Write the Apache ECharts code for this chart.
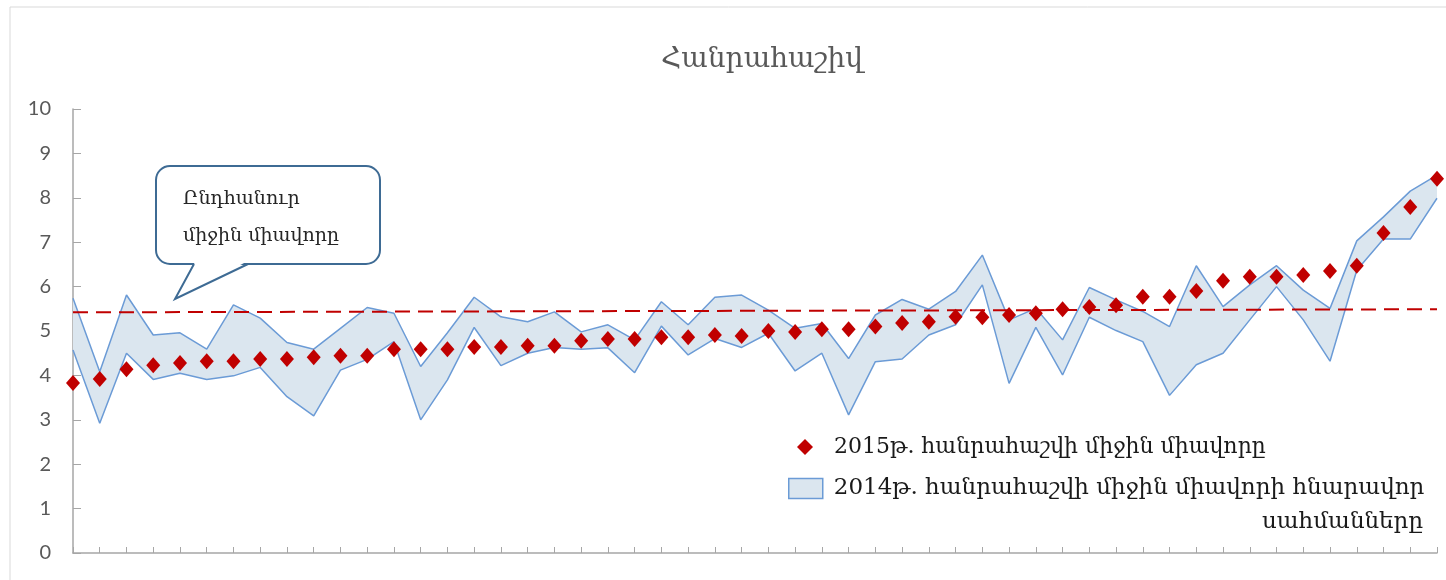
<!DOCTYPE html>
<html>
<head>
<meta charset="utf-8">
<script src="https://cdn.jsdelivr.net/npm/echarts@6/dist/echarts.min.js"></script>
<style>
  html, body { margin: 0; padding: 0; background: #fff; }
  #chart { width: 1446px; height: 580px; }
</style>
</head>
<body>
<div id="chart"></div>
<script>
// 2015 averages (diamonds)
var avg2015 = [3.83, 3.92, 4.14, 4.23, 4.28, 4.32, 4.32, 4.37, 4.37, 4.41, 4.44, 4.44, 4.59,
  4.59, 4.59, 4.64, 4.64, 4.67, 4.67, 4.78, 4.82, 4.82, 4.86, 4.86, 4.91, 4.89, 5.0,
  4.98, 5.04, 5.04, 5.10, 5.18, 5.21, 5.32, 5.31, 5.36, 5.40, 5.49, 5.54, 5.58,
  5.77, 5.77, 5.90, 6.13, 6.22, 6.22, 6.26, 6.35, 6.47, 7.21, 7.79, 8.43];
// 2014 band limits
var upper2014 = [5.74, 4.08, 5.81, 4.91, 4.96, 4.59, 5.59, 5.29, 4.74, 4.59,
  5.06, 5.53, 5.40, 4.20, 4.96, 5.76, 5.32, 5.21, 5.43, 4.98,
  5.14, 4.80, 5.66, 5.14, 5.76, 5.81, 5.47, 5.06, 5.17, 4.38,
  5.36, 5.71, 5.49, 5.89, 6.71, 5.25, 5.51, 4.80, 5.98, 5.70,
  5.44, 5.10, 6.47, 5.55, 6.04, 6.47, 5.92, 5.51, 7.03, 7.57, 8.15, 8.51];
var lower2014 = [4.57, 2.92, 4.50, 3.91, 4.05, 3.91, 3.99, 4.18, 3.52, 3.09,
  4.12, 4.36, 4.76, 3.00, 3.90, 5.08, 4.22, 4.50, 4.63, 4.59,
  4.62, 4.06, 5.11, 4.46, 4.83, 4.63, 4.95, 4.10, 4.50, 3.11,
  4.31, 4.37, 4.91, 5.14, 6.04, 3.82, 5.08, 4.01, 5.31, 5.01,
  4.76, 3.55, 4.24, 4.50, 5.25, 6.00, 5.25, 4.32, 6.37, 7.07, 7.07, 7.99];
// overall average line (start, end)
var overallAvg = [5.42, 5.49];
var yTicks = [0, 10, 1];

var categories = avg2015.map(function (v, i) { return String(i + 1); });
var bandDiff = upper2014.map(function (u, i) { return +(u - lower2014[i]).toFixed(2); });

var name2015 = "2015թ. հանրահաշվի միջին միավորը";
var name2014 = "2014թ. հանրահաշվի միջին միավորի հնարավոր";
var serif = "'DejaVu Serif', 'DejaVu Sans', serif";
var blue = "#6b9bd6";
var red = "#c00000";

var chart = echarts.init(document.getElementById("chart"));
chart.setOption({
  animation: false,
  title: {
    text: "Հանրահաշիվ",
    left: 757,
    textAlign: "center",
    top: 41,
    textStyle: { fontFamily: serif, fontSize: 28, fontWeight: "normal", color: "#595959" }
  },
  grid: { left: 73, right: 9, top: 109, bottom: 27, containLabel: false },
  xAxis: {
    type: "category",
    data: categories,
    boundaryGap: false,
    axisLine: { lineStyle: { color: "#a6a6a6", width: 1.5 } },
    axisTick: { inside: true, length: 6, interval: 0, lineStyle: { color: "#a6a6a6" } },
    axisLabel: { show: false },
    splitLine: { show: false }
  },
  yAxis: {
    type: "value",
    min: yTicks[0], max: yTicks[1], interval: yTicks[2],
    axisLine: { show: true, lineStyle: { color: "#a6a6a6", width: 1.5 } },
    axisTick: { show: true, inside: true, length: 8, lineStyle: { color: "#a6a6a6" } },
    axisLabel: { color: "#595959", fontSize: 20, fontFamily: "Lato, 'Open Sans', sans-serif", margin: 22 },
    splitLine: { show: false }
  },
  legend: [{
    orient: "vertical",
    left: 797, top: 436,
    padding: 0,
    itemWidth: 16, itemHeight: 16,
    selectedMode: false,
    textStyle: { fontFamily: serif, fontSize: 22, color: "#1a1a1a", padding: [0, 0, 0, 16] },
    data: [{ name: name2015, icon: "diamond", itemStyle: { color: red, opacity: 1 } }]
  }, {
    orient: "vertical",
    left: 788, top: 477,
    padding: 0,
    itemWidth: 34, itemHeight: 20,
    selectedMode: false,
    textStyle: { fontFamily: serif, fontSize: 23, color: "#1a1a1a", padding: [0, 0, 0, 6] },
    data: [{ name: name2014, icon: "rect", itemStyle: { color: "#dbe6ef", borderColor: blue, borderWidth: 1.5 } }]
  }],
  graphic: [
    { type: "rect", shape: { x: 10, y: 7, width: 1440, height: 580 }, style: { fill: "none", stroke: "#d9d9d9", lineWidth: 1 }, silent: true },
    { type: "rect", shape: { x: 156, y: 166, width: 224, height: 98, r: 14 }, style: { fill: "#fff", stroke: "#3e6b94", lineWidth: 2 } },
    { type: "polygon", shape: { points: [[195, 262], [246, 262], [176, 298]] }, style: { fill: "#fff", stroke: "none" } },
    { type: "polyline", shape: { points: [[194, 264], [175, 299], [248, 264]] }, style: { fill: "none", stroke: "#3e6b94", lineWidth: 2 } },
    { type: "text", x: 183, y: 199, style: { text: "Ընդհանուր", font: "19px " + serif, fill: "#262626", textVerticalAlign: "middle", verticalAlign: "middle" } },
    { type: "text", x: 183, y: 236, style: { text: "միջին միավորը", font: "19px " + serif, fill: "#262626", textVerticalAlign: "middle", verticalAlign: "middle" } },
    { type: "text", x: 1423, y: 522, style: { text: "սահմանները", font: "23px " + serif, fill: "#1a1a1a", textAlign: "right", align: "right", textVerticalAlign: "middle", verticalAlign: "middle" } }
  ],
  series: [{
    name: "lower",
    type: "line",
    stack: "band",
    data: lower2014,
    symbol: "none",
    lineStyle: { color: blue, width: 1.5 },
    z: 2
  }, {
    name: name2014,
    type: "line",
    stack: "band",
    data: bandDiff,
    symbol: "none",
    lineStyle: { color: blue, width: 1.5 },
    areaStyle: { color: "#dbe6ef", opacity: 1 },
    itemStyle: { color: blue },
    z: 2
  }, {
    name: "avg",
    type: "line",
    data: [[0, overallAvg[0]], [categories.length - 1, overallAvg[1]]],
    symbol: "none",
    lineStyle: { color: red, width: 2, type: [15, 8] },
    z: 3
  }, {
    name: name2015,
    type: "scatter",
    data: avg2015,
    symbol: "diamond",
    symbolSize: [14, 16],
    itemStyle: { color: red, opacity: 1 },
    z: 4
  }]
});
</script>
</body>
</html>
